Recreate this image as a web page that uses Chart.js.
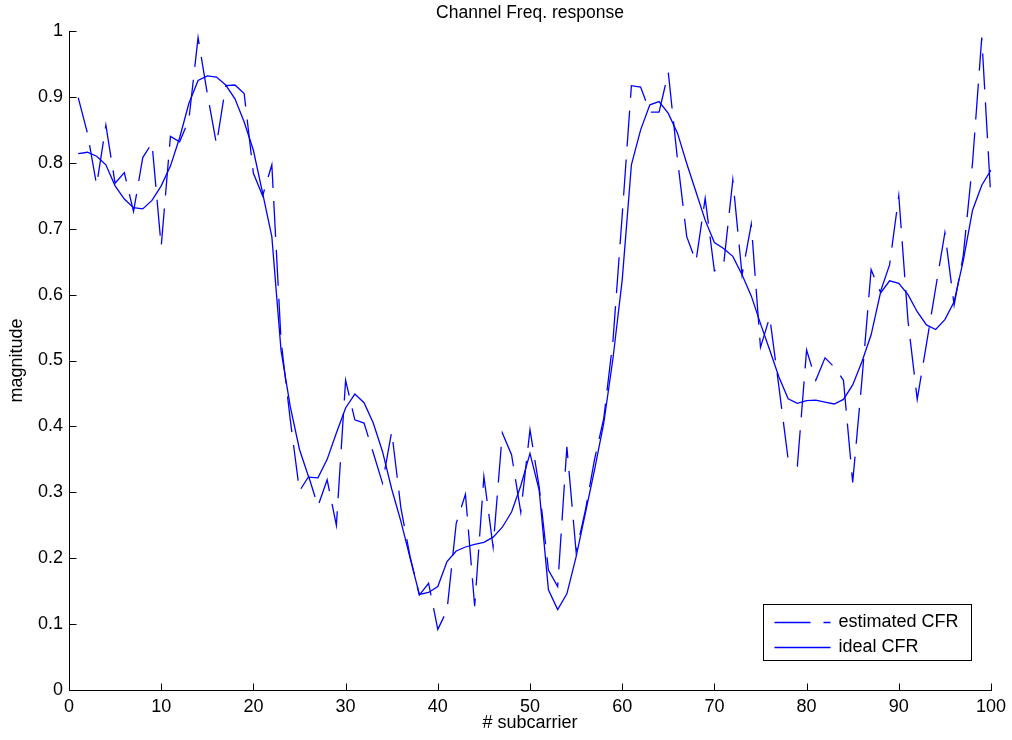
<!DOCTYPE html>
<html>
<head>
<meta charset="utf-8">
<title>Channel Freq. response</title>
<script src="https://cdn.jsdelivr.net/npm/chart.js@4.4.1/dist/chart.umd.min.js"></script>
<style>
  html, body { margin: 0; padding: 0; background: #fff; }
  #wrap { width: 1012px; height: 740px; }
</style>
</head>
<body>
<div id="wrap"><canvas id="cfr"></canvas></div>
<script>
// subcarrier index
const subcarriers = [
    1, 2, 3, 4, 5, 6, 7, 8, 9, 10, 11, 12, 13, 14, 15, 16, 17, 18, 19, 20,
    21, 22, 23, 24, 25, 26, 27, 28, 29, 30, 31, 32, 33, 34, 35, 36, 37, 38, 39, 40,
    41, 42, 43, 44, 45, 46, 47, 48, 49, 50, 51, 52, 53, 54, 55, 56, 57, 58, 59, 60,
    61, 62, 63, 64, 65, 66, 67, 68, 69, 70, 71, 72, 73, 74, 75, 76, 77, 78, 79, 80,
    81, 82, 83, 84, 85, 86, 87, 88, 89, 90, 91, 92, 93, 94, 95, 96, 97, 98, 99, 100
];

// |H| from the channel estimator
const estimatedCFR = [
    0.899, 0.845, 0.766, 0.857, 0.769, 0.785, 0.726, 0.808, 0.830, 0.673,
    0.840, 0.832, 0.865, 0.990, 0.905, 0.828, 0.917, 0.918, 0.905, 0.784,
    0.750, 0.797, 0.530, 0.410, 0.302, 0.324, 0.279, 0.319, 0.250, 0.470,
    0.410, 0.405, 0.360, 0.314, 0.392, 0.276, 0.202, 0.144, 0.162, 0.092,
    0.121, 0.253, 0.297, 0.127, 0.324, 0.217, 0.390, 0.357, 0.270, 0.395,
    0.308, 0.182, 0.157, 0.369, 0.210, 0.272, 0.350, 0.412, 0.530, 0.720,
    0.917, 0.915, 0.877, 0.877, 0.937, 0.805, 0.688, 0.650, 0.746, 0.636,
    0.645, 0.774, 0.630, 0.707, 0.520, 0.566, 0.460, 0.350, 0.340, 0.516,
    0.470, 0.504, 0.490, 0.470, 0.315, 0.470, 0.638, 0.604, 0.645, 0.750,
    0.560, 0.441, 0.525, 0.610, 0.694, 0.584, 0.660, 0.800, 0.990, 0.743
];

// true |H|
const idealCFR = [
    0.814, 0.816, 0.810, 0.797, 0.765, 0.745, 0.732, 0.730, 0.743, 0.765,
    0.795, 0.838, 0.890, 0.925, 0.932, 0.930, 0.918, 0.897, 0.862, 0.819,
    0.754, 0.688, 0.515, 0.430, 0.365, 0.323, 0.322, 0.350, 0.390, 0.428,
    0.449, 0.436, 0.405, 0.362, 0.305, 0.256, 0.200, 0.145, 0.148, 0.157,
    0.195, 0.211, 0.217, 0.221, 0.224, 0.232, 0.247, 0.270, 0.310, 0.359,
    0.303, 0.152, 0.122, 0.146, 0.202, 0.268, 0.334, 0.405, 0.503, 0.622,
    0.797, 0.850, 0.888, 0.893, 0.875, 0.845, 0.799, 0.756, 0.713, 0.679,
    0.670, 0.658, 0.630, 0.598, 0.556, 0.516, 0.475, 0.442, 0.435, 0.439,
    0.440, 0.437, 0.434, 0.441, 0.463, 0.498, 0.539, 0.602, 0.621, 0.617,
    0.600, 0.574, 0.554, 0.547, 0.562, 0.589, 0.652, 0.728, 0.766, 0.789
];

const xTickLabels = ['0', '10', '20', '30', '40', '50', '60', '70', '80', '90', '100'];
const yTickLabels = ['0', '0.1', '0.2', '0.3', '0.4', '0.5', '0.6', '0.7', '0.8', '0.9', '1'];
const chartTitle = 'Channel Freq. response';

const FONT = '"Liberation Sans", Arial, sans-serif';
const BLUE = 'rgb(0, 0, 255)';

function toPoints(ys) {
    return subcarriers.map((s, i) => ({ x: s, y: ys[i] }));
}

// left + bottom axis lines with inward ticks, title over the plot box,
// and a boxed legend in the lower right corner
const matlabAxes = {
    id: 'matlabAxes',
    afterDraw(chart) {
        const { ctx, chartArea: a, scales: { x, y } } = chart;
        const L = Math.round(a.left) + 0.5;
        const B = Math.round(a.bottom) + 0.5;
        ctx.save();
        ctx.strokeStyle = '#000';
        ctx.lineWidth = 1;
        ctx.beginPath();
        ctx.moveTo(L, Math.round(a.top));
        ctx.lineTo(L, B);
        ctx.lineTo(Math.round(a.right) + 1, B);
        x.ticks.forEach(t => {
            const px = Math.round(x.getPixelForValue(t.value)) + 0.5;
            ctx.moveTo(px, B);
            ctx.lineTo(px, B - 7);
        });
        y.ticks.forEach(t => {
            const py = Math.round(y.getPixelForValue(t.value)) + 0.5;
            ctx.moveTo(L, py);
            ctx.lineTo(L + 7, py);
        });
        ctx.stroke();

        // title
        ctx.fillStyle = '#000';
        ctx.font = '17.5px ' + FONT;
        ctx.textAlign = 'center';
        ctx.textBaseline = 'middle';
        ctx.fillText(chartTitle, (a.left + a.right) / 2, a.top - 18);

        // legend
        const w = 208, h = 56;
        const bx = Math.round(a.right) - 228 + 0.5;
        const by = Math.round(a.bottom) - 86 + 0.5;
        ctx.fillStyle = '#fff';
        ctx.fillRect(bx, by, w, h);
        ctx.strokeStyle = '#000';
        ctx.lineWidth = 1;
        ctx.strokeRect(bx, by, w, h);
        ctx.font = '18px ' + FONT;
        ctx.textAlign = 'left';
        chart.data.datasets.forEach((ds, i) => {
            const ly = Math.round(by + 17 + i * 25) + 0.5;
            ctx.strokeStyle = ds.borderColor;
            ctx.lineWidth = ds.borderWidth;
            ctx.setLineDash(ds.borderDash || []);
            ctx.beginPath();
            ctx.moveTo(bx + 11, ly);
            ctx.lineTo(bx + 67, ly);
            ctx.stroke();
            ctx.setLineDash([]);
            ctx.fillStyle = '#000';
            ctx.fillText(ds.label, bx + 75, ly);
        });
        ctx.restore();
    }
};

function initChart() {
    const ctx = document.getElementById('cfr').getContext('2d');
    new Chart(ctx, {
        type: 'line',
        data: {
            datasets: [{
                label: 'estimated CFR',
                data: toPoints(estimatedCFR),
                borderColor: BLUE,
                borderWidth: 1.3,
                borderDash: [36, 13],
                pointRadius: 0,
                tension: 0,
                fill: false
            }, {
                label: 'ideal CFR',
                data: toPoints(idealCFR),
                borderColor: BLUE,
                borderWidth: 1.3,
                pointRadius: 0,
                tension: 0,
                fill: false
            }]
        },
        options: {
            responsive: true,
            maintainAspectRatio: false,
            animation: false,
            layout: { padding: { left: 0, right: 17, top: 31, bottom: 0 } },
            plugins: {
                legend: { display: false },
                tooltip: { enabled: false },
                title: { display: false }
            },
            scales: {
                x: {
                    type: 'linear',
                    min: 0,
                    max: 100,
                    grid: { display: false, drawTicks: false },
                    border: { display: false },
                    ticks: {
                        stepSize: 10,
                        color: '#000',
                        padding: 6,
                        maxRotation: 0,
                        font: { family: FONT, size: 18 },
                        callback: (v, i) => xTickLabels[i]
                    },
                    title: {
                        display: true,
                        text: '# subcarrier',
                        color: '#000',
                        font: { family: FONT, size: 18 },
                        padding: { top: 0, bottom: 6 }
                    },
                    afterFit(scale) { scale.height = 50; }
                },
                y: {
                    min: 0,
                    max: 1,
                    grid: { display: false, drawTicks: false },
                    border: { display: false },
                    ticks: {
                        stepSize: 0.1,
                        color: '#000',
                        padding: 6,
                        font: { family: FONT, size: 18 },
                        callback: (v, i) => yTickLabels[i]
                    },
                    title: {
                        display: true,
                        text: 'magnitude',
                        color: '#000',
                        font: { family: FONT, size: 18 },
                        padding: { top: 6, bottom: 0 }
                    },
                    afterFit(scale) { scale.width = 69; }
                }
            }
        },
        plugins: [matlabAxes]
    });
}

window.onload = initChart;
</script>
</body>
</html>
